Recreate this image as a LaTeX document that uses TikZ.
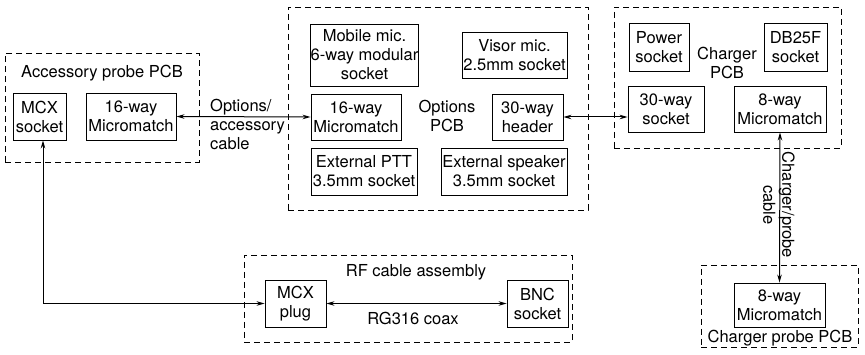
\documentclass[tikz,border=0pt]{standalone}
\usepackage{fontspec}
\setmainfont{TeX Gyre Heros}
\usetikzlibrary{arrows.meta,calc}
\begin{document}
\begin{tikzpicture}[x=1pt,y=-1pt,
  txt/.style={font=\fontsize{16.5}{19}\selectfont, align=center, inner sep=0pt},
  box/.style={txt, draw, line width=0.9pt, rectangle},
  grp/.style={draw, line width=0.9pt, dash pattern=on 6pt off 4pt, rectangle, inner sep=0pt},
  conn/.style={line width=1pt, {Stealth[length=8pt,width=4.5pt]}-{Stealth[length=8pt,width=4.5pt]}}
]
\useasboundingbox (0,0) rectangle (865,355);
% groups
\node[grp, minimum width=194pt, minimum height=109pt] (accpcb) at (102,107.5) {};
\node[grp, minimum width=300pt, minimum height=203pt] (optpcb) at (438,108.5) {};
\node[grp, minimum width=227pt, minimum height=141pt] (chpcb) at (727.5,77.5) {};
\node[grp, minimum width=157pt, minimum height=82pt] (cppcb) at (779.5,306) {};
\node[grp, minimum width=328pt, minimum height=87pt] (rfasm) at (408,298.5) {};
% group titles
\node[txt] (acct) at (102,73) {Accessory probe PCB};
\node[txt] (optt) at (447,116) {Options\\PCB};
\node[txt] (cht) at (727,63) {Charger\\PCB};
\node[txt] (cpt) at (780,338) {Charger probe PCB};
\node[txt] (rft) at (416,272) {RF cable assembly};
% boxes
\node[box, minimum width=53pt, minimum height=47pt] (accmcx) at (39.5,116.5) {MCX\\socket};
\node[box, minimum width=90pt, minimum height=47pt] (acc16) at (131,116.5) {16-way\\Micromatch};
\node[box, minimum width=107pt, minimum height=62pt] (mobile) at (364.5,55) {Mobile mic.\\6-way modular\\socket};
\node[box, minimum width=105pt, minimum height=46pt] (visor) at (514.5,55) {Visor mic.\\2.5mm socket};
\node[box, minimum width=90pt, minimum height=46pt] (opt16) at (356,117) {16-way\\Micromatch};
\node[box, minimum width=71pt, minimum height=46pt] (hdr30) at (527.5,117) {30-way\\header};
\node[box, minimum width=106pt, minimum height=47pt] (ptt) at (364,171.5) {External PTT\\3.5mm socket};
\node[box, minimum width=126pt, minimum height=47pt] (spk) at (504,171.5) {External speaker\\3.5mm socket};
\node[box, minimum width=60pt, minimum height=48pt] (power) at (659,47) {Power\\socket};
\node[box, minimum width=63pt, minimum height=48pt] (db25) at (795.5,47) {DB25F\\socket};
\node[box, minimum width=76pt, minimum height=46pt] (sock30) at (666,109) {30-way\\socket};
\node[box, minimum width=92pt, minimum height=46pt] (ch8) at (780,109) {8-way\\Micromatch};
\node[box, minimum width=91pt, minimum height=44pt] (cp8) at (779.5,305) {8-way\\Micromatch};
\node[box, minimum width=61pt, minimum height=47pt] (mcxplug) at (295.5,303.5) {MCX\\plug};
\node[box, minimum width=61pt, minimum height=47pt] (bnc) at (537.5,303.5) {BNC\\socket};
% connectors
\draw[conn] (acc16.east) -- (opt16.west);
\node[txt, align=left, anchor=north west] (oacl) at (210,99) {Options/\\accessory\\cable};
\draw[conn] (hdr30.east) -- (hdr30.east -| sock30.west);
\draw[conn] (ch8.south) -- (cp8.north);
\node[txt, rotate=-90] (cpcl) at (779,205) {Charger/probe\\cable};
\draw[conn] (mcxplug.east) -- (bnc.west);
\node[txt] (rgl) at (413,318) {RG316 coax};
\coordinate (corner) at (43,303.5);
\draw[conn] (accmcx.south -| corner) |- (mcxplug.west);
\end{tikzpicture}
\end{document}
